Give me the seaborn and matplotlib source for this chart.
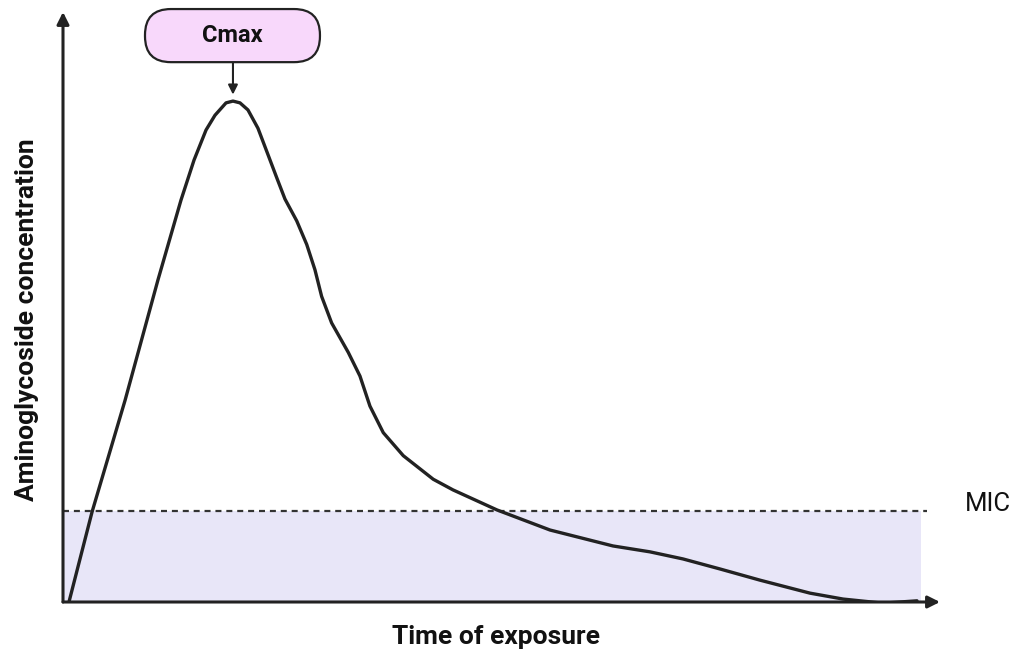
import matplotlib
matplotlib.use("Agg")
import matplotlib.pyplot as plt
from matplotlib.patches import FancyBboxPatch
import pandas as pd
import seaborn as sns

# concentration-time curve, arbitrary units (0-100 on both axes)
time = [0.68, 3.31, 7.08, 10.83, 13.45, 14.94, 16.31, 17.33, 18.59, 19.38,
        20.18, 21.09, 22.23, 23.38, 24.4, 25.31, 26.65, 27.79, 28.73, 29.49,
        30.63, 32.53, 33.86, 35.0, 36.52, 38.8, 42.22, 44.47, 49.49, 55.53,
        62.71, 66.93, 70.69, 74.91, 79.48, 85.18, 88.94, 93.5, 97.38]
conc = [0.0, 15.25, 34.2, 54.6, 68.1, 74.9, 80.0, 82.5, 84.6, 84.9,
        84.6, 83.4, 80.3, 75.8, 71.8, 68.3, 64.6, 60.6, 56.3, 51.8,
        47.3, 42.3, 38.3, 33.2, 28.7, 24.8, 20.8, 19.0, 15.6, 12.2,
        9.5, 8.5, 7.3, 5.6, 3.7, 1.5, 0.5, -0.2, 0.2]

mic = 15.4
mic_band_end = 97.8
mic_line_end = 98.5
cmax_time = 19.38
cmax_conc = 85.6

x_label = "Time of exposure"
y_label = "Aminoglycoside concentration"
ink = "#222222"

sns.set_theme(style="white")
plt.rcParams["font.family"] = ["Roboto", "DejaVu Sans"]

fig = plt.figure(figsize=(10.16, 6.59), dpi=100)
ax = fig.add_axes([63 / 1016, 57 / 659, 877 / 1016, 590 / 659])
ax.set_xlim(0, 100)
ax.set_ylim(0, 100)
ax.axis("off")

# region below MIC
ax.fill_between([0, mic_band_end], 0, mic, color="#e8e6f8", lw=0, zorder=1)
ax.plot([0, mic_line_end], [mic, mic], ls=(0, (2.7, 2.2)), lw=1.6,
        color="#333333", zorder=2)

df = pd.DataFrame({"time": time, "conc": conc})
sns.lineplot(data=df, x="time", y="conc", ax=ax, sort=False, estimator=None,
             color=ink, lw=2.4, zorder=3)
ax.lines[-1].set_solid_joinstyle("round")
ax.set_xlabel("")
ax.set_ylabel("")

# axes with arrow heads
arrow = dict(arrowstyle="-|>", lw=2.2, color=ink, mutation_scale=18,
             shrinkA=0, shrinkB=0)
ax.annotate("", xy=(0, 1), xytext=(0, 0), xycoords="axes fraction", arrowprops=arrow)
ax.annotate("", xy=(1, 0), xytext=(0, 0), xycoords="axes fraction", arrowprops=arrow)

# Cmax callout
box = FancyBboxPatch((9.35, 91.5), 19.95, 9.0,
                     boxstyle="round,pad=0,rounding_size=2.95",
                     mutation_aspect=8.77 / 5.9, fc="#f8d8fb", ec=ink, lw=1.6,
                     clip_on=False, zorder=4)
ax.add_patch(box)
ax.text(cmax_time - 0.05, 96.0, "Cmax", ha="center", va="center", fontsize=17,
        fontweight="bold", color="#111111", zorder=5)
ax.annotate("", xy=(cmax_time, cmax_conc + 0.4), xytext=(cmax_time, 91.5),
            arrowprops=dict(arrowstyle="-|>", lw=1.5, color=ink,
                            mutation_scale=14, shrinkA=0, shrinkB=0))

ax.text(1.0285, 0.166, "MIC", transform=ax.transAxes, ha="left", va="center",
        fontsize=18.5, color="#111111")

fig.text(496 / 1016, 1 - 637 / 659, x_label, ha="center", va="center",
         fontsize=19, fontweight="bold", color="#111111")
fig.text(27 / 1016, 1 - 320 / 659, y_label, ha="center", va="center",
         rotation=90, fontsize=19, fontweight="bold", color="#111111")

fig.savefig("out.png", dpi=100)
